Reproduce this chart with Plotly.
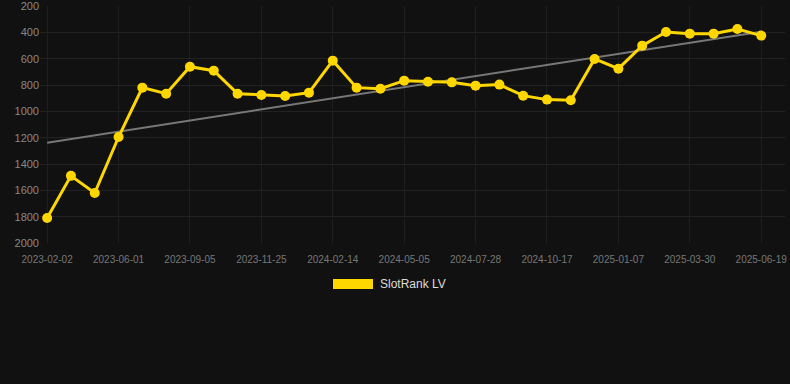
import numpy as np
import plotly.graph_objects as go

dates = ["2023-02-02", "2023-03-12", "2023-04-21", "2023-06-01", "2023-07-03", "2023-08-04",
         "2023-09-05", "2023-10-01", "2023-10-28", "2023-11-25", "2023-12-22", "2024-01-18",
         "2024-02-14", "2024-03-11", "2024-04-08", "2024-05-05", "2024-06-02", "2024-06-30",
         "2024-07-28", "2024-08-24", "2024-09-20", "2024-10-17", "2024-11-13", "2024-12-10",
         "2025-01-07", "2025-02-03", "2025-03-02", "2025-03-30", "2025-04-26", "2025-05-23",
         "2025-06-19"]
rank = [1810, 1490, 1620, 1195, 820, 866, 661, 691, 866, 876, 883, 858, 615, 820, 828,
        767, 775, 780, 805, 797, 881, 911, 916, 602, 676, 501, 397, 410, 410, 375, 425]
tick_labels = dates[::3]
y_ticks = [200, 400, 600, 800, 1000, 1200, 1400, 1600, 1800, 2000]
series_name = "SlotRank LV"

idx = np.arange(len(rank))
slope, intercept = np.polyfit(idx, rank, 1)
trend = slope * idx + intercept

fig = go.Figure()
fig.add_trace(go.Scatter(
    x=dates, y=trend, mode="lines",
    line=dict(color="#777777", width=2), showlegend=False, hoverinfo="skip"))
fig.add_trace(go.Scatter(
    x=dates, y=rank, mode="lines+markers", name=series_name,
    line=dict(color="#FFD700", width=3),
    marker=dict(color="#FFD700", size=10), showlegend=False))

L, R, T, B = 40, 5, 6, 141
W, H = 790, 384
pw = W - L - R
ph = H - T - B

def px_x(p):
    return (p - L) / pw

def px_y(p):
    return (H - B - p) / ph

fig.add_shape(type="rect", xref="paper", yref="paper",
              x0=px_x(333), x1=px_x(373), y0=px_y(289), y1=px_y(279),
              fillcolor="#FFD700", line=dict(width=0))
fig.add_annotation(xref="paper", yref="paper", x=px_x(378), y=px_y(284),
                   text=series_name, showarrow=False, xanchor="left", yanchor="middle",
                   font=dict(size=12, color="#dddddd", family="Liberation Sans, Arial, sans-serif"))

fig.update_layout(
    width=W, height=H,
    margin=dict(l=L, r=R, t=T, b=B, pad=0),
    paper_bgcolor="#111111", plot_bgcolor="#111111",
    font=dict(family="Liberation Sans, Arial, sans-serif", color="#888888"),
    xaxis=dict(
        type="category", range=[-0.3, 31.0],
        tickmode="array", tickvals=tick_labels, ticktext=tick_labels,
        tickfont=dict(size=10, color="#777777"),
        showgrid=True, gridcolor="#1f1f1f", gridwidth=1,
        zeroline=False, showline=False, ticks="", ticklen=0,
        ticklabelstandoff=9, ticklabeloverflow="allow", automargin=False,
    ),
    yaxis=dict(
        range=[2000, 200], tickvals=y_ticks,
        tickfont=dict(size=11, color="#888888"),
        showgrid=True, gridcolor="#222222", gridwidth=1,
        zeroline=False, showline=False, ticks="",
        ticklabeloverflow="allow", automargin=False,
    ),
    showlegend=False,
)

fig.write_html("out.html", config={"displayModeBar": False},
               post_script="document.body.style.margin='0';document.body.style.background='#111111';")
